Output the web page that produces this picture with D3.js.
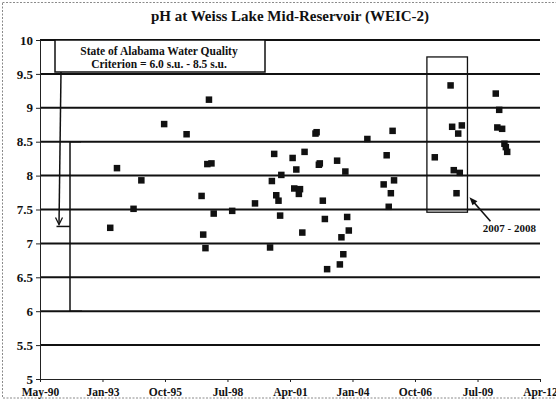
<!DOCTYPE html>
<html>
<head>
<meta charset="utf-8">
<script src="https://cdn.jsdelivr.net/npm/d3@7"></script>
<style>
  body { margin: 0; background: #fff; }
  svg { display: block; }
  text { font-family: "Liberation Serif", "Times New Roman", serif; font-weight: bold; fill: #111; }
</style>
</head>
<body>
<svg id="chart" width="556" height="403"></svg>
<script>
// Sampling dates and measured pH at Weiss Lake Mid-Reservoir (WEIC-2)
const sampleDates = [
  "1993-06-04", "1993-09-20", "1994-06-12", "1994-10-15", "1995-10-15",
  "1996-10-08", "1997-06-05", "1997-07-01", "1997-08-06", "1997-09-05",
  "1997-11-10", "1997-10-01", "1997-12-16", "1998-10-08", "1999-10-08",
  "2000-06-05", "2000-07-04", "2000-08-10", "2000-09-12", "2000-10-18",
  "2000-11-13", "2000-12-02", "2001-06-01", "2001-06-27", "2001-07-30",
  "2001-09-09", "2001-09-27", "2001-11-03", "2001-12-09", "2002-06-02",
  "2002-06-20", "2002-07-26", "2002-08-10", "2002-09-27", "2002-10-30",
  "2002-12-05", "2003-05-14", "2003-06-27", "2003-07-22", "2003-08-21",
  "2003-09-23", "2003-10-22", "2003-11-17", "2004-09-09", "2005-05-28",
  "2005-07-15", "2005-08-17", "2005-09-20", "2005-10-18", "2005-11-10",
  "2007-08-24", "2008-05-03", "2008-05-28", "2008-06-23", "2008-08-06",
  "2008-09-02", "2008-09-27", "2008-10-30", "2010-04-26", "2010-05-21",
  "2010-06-20", "2010-08-06", "2010-09-12", "2010-10-04", "2010-10-26"
];
const phValues = [
  7.23, 8.11, 7.51, 7.93, 8.76,
  8.61, 7.70, 7.13, 6.93, 8.17,
  8.18, 9.12, 7.44, 7.48, 7.59,
  6.94, 7.92, 8.32, 7.71, 7.63,
  7.41, 8.01, 8.26, 7.81, 8.09,
  7.73, 7.80, 7.16, 8.35, 8.62,
  8.64, 8.16, 8.18, 7.63, 7.36,
  6.62, 8.22, 6.69, 7.09, 6.84,
  8.06, 7.39, 7.19, 8.54, 7.87,
  8.30, 7.54, 7.74, 8.66, 7.93,
  8.27, 9.33, 8.72, 8.08, 7.74,
  8.62, 8.04, 8.74, 9.21, 8.71,
  8.97, 8.69, 8.47, 8.42, 8.35
];

// Axis ticks: a date every 1000 days, pH every 0.5 s.u.
const xTickDates = ["1990-05-07", "1993-01-31", "1995-10-28", "1998-07-24", "2001-04-20",
                    "2004-01-15", "2006-10-11", "2009-07-08", "2012-04-03"];
const yTickValues = [5, 5.5, 6, 6.5, 7, 7.5, 8, 8.5, 9, 9.5, 10];

// Alabama water-quality criterion range (s.u.)
const criterion = [6.0, 8.5];
const noteLines = ["State of Alabama Water Quality", "Criterion = 6.0 s.u. - 8.5 s.u."];

// Highlighted 2007-2008 period
const highlightDates = ["2007-04-20", "2009-01-28"];
const highlightPh = [7.46, 9.75];
const highlightLabel = "2007 - 2008";

const parse = d3.timeParse("%Y-%m-%d");
const data = sampleDates.map((d, i) => ({ date: parse(d), ph: phValues[i] }));

const svg = d3.select("#chart");
const plot = { left: 40, right: 540, top: 40, bottom: 379 };

const x = d3.scaleTime()
  .domain([parse(xTickDates[0]), parse(xTickDates[xTickDates.length - 1])])
  .range([plot.left, plot.right]);
const y = d3.scaleLinear().domain([5, 10]).range([plot.bottom, plot.top]);

// Dotted frame
svg.append("rect")
  .attr("x", 2.5).attr("y", 2.5).attr("width", 570).attr("height", 395.5)
  .attr("fill", "none").attr("stroke", "#8a8a8a").attr("stroke-width", 1)
  .attr("stroke-dasharray", "2,1.5");

// Title
svg.append("text")
  .attr("x", 290).attr("y", 21)
  .attr("text-anchor", "middle")
  .style("font-size", "15px")
  .text("pH at Weiss Lake Mid-Reservoir (WEIC-2)");

// Horizontal gridlines
svg.append("g")
  .selectAll("line")
  .data(yTickValues.filter(v => v > 5))
  .join("line")
  .attr("x1", plot.left).attr("x2", plot.right)
  .attr("y1", d => y(d)).attr("y2", d => y(d))
  .attr("stroke", "#111").attr("stroke-width", 2);

// Axes
const yAxis = svg.append("g")
  .attr("transform", `translate(${plot.left},0)`)
  .call(d3.axisLeft(y).tickValues(yTickValues).tickSize(4).tickPadding(3).tickFormat(d => String(d)));
yAxis.selectAll("text").style("font-size", "13px");

const xAxis = svg.append("g")
  .attr("transform", `translate(0,${plot.bottom})`)
  .call(d3.axisBottom(x).tickValues(xTickDates.map(parse)).tickSize(3).tickPadding(6)
    .tickFormat(d3.timeFormat("%b-%y")));
xAxis.selectAll("text").style("font-size", "11.5px");

[yAxis, xAxis].forEach(a => {
  a.select(".domain").attr("stroke", "#222").attr("stroke-width", 1);
  a.selectAll(".tick line").attr("stroke", "#222");
  a.selectAll("text").attr("fill", "#111").style("font-family", "'Liberation Serif', serif").style("font-weight", "bold");
});

// Criterion note box
const note = { x: 55, y: y(10), w: 210, h: 32 };
svg.append("rect")
  .attr("x", note.x).attr("y", note.y).attr("width", note.w).attr("height", note.h)
  .attr("fill", "#fff").attr("stroke", "#111").attr("stroke-width", 1.5);
svg.append("g").selectAll("text")
  .data(noteLines)
  .join("text")
  .attr("x", note.x + note.w / 2 - 1)
  .attr("y", (d, i) => note.y + 15 + i * 13)
  .attr("text-anchor", "middle")
  .style("font-size", "11.5px")
  .text(d => d);

// Bracket spanning the criterion range
const bx = plot.left + 30;
const mid = (criterion[0] + criterion[1]) / 2;
svg.append("path")
  .attr("d", `M${bx + 11},${y(criterion[1])}H${bx}V${y(criterion[0])}H${bx + 12}`)
  .attr("fill", "none").attr("stroke", "#111").attr("stroke-width", 1.5);

// Arrow from the note down to the bracket midpoint
const ax = plot.left + 20.5;
svg.append("path")
  .attr("d", `M${ax + 0.5},${note.y + note.h}L${ax - 1.5},${y(mid) - 2}`)
  .attr("stroke", "#111").attr("stroke-width", 1.5).attr("fill", "none");
svg.append("path")
  .attr("d", `M${ax - 5},${y(mid) - 9}L${ax - 1.5},${y(mid) - 2}L${ax + 2},${y(mid) - 9}`)
  .attr("stroke", "#111").attr("stroke-width", 1.3).attr("fill", "none");
svg.append("path")
  .attr("d", `M${ax - 4},${y(mid)}H${bx}`)
  .attr("stroke", "#111").attr("stroke-width", 1.5);

// Highlight box around the 2007-2008 samples
const hx0 = x(parse(highlightDates[0])), hx1 = x(parse(highlightDates[1]));
svg.append("rect")
  .attr("x", hx0).attr("y", y(highlightPh[1]))
  .attr("width", hx1 - hx0).attr("height", y(highlightPh[0]) - y(highlightPh[1]))
  .attr("fill", "none").attr("stroke", "#111").attr("stroke-width", 1.3);

// Label and arrow pointing at the highlight box
const tip = [hx1 + 2, y(highlightPh[0]) - 15];
const tail = [hx1 + 23, y(highlightPh[0]) + 9];
svg.append("line")
  .attr("x1", tail[0]).attr("y1", tail[1]).attr("x2", tip[0] + 3).attr("y2", tip[1] + 3.5)
  .attr("stroke", "#111").attr("stroke-width", 1.6);
svg.append("path")
  .attr("d", `M${tip[0]},${tip[1]}L${tip[0] + 8},${tip[1] + 4}L${tip[0] + 3},${tip[1] + 8}Z`)
  .attr("fill", "#111");
svg.append("text")
  .attr("x", hx1 + 42).attr("y", y(highlightPh[0]) + 20)
  .attr("text-anchor", "middle")
  .style("font-size", "11px")
  .text(highlightLabel);

// Sample markers
const s = 6.5;
svg.append("g")
  .selectAll("rect")
  .data(data)
  .join("rect")
  .attr("x", d => x(d.date) - s / 2)
  .attr("y", d => y(d.ph) - s / 2)
  .attr("width", s).attr("height", s)
  .attr("fill", "#111");
</script>
</body>
</html>
